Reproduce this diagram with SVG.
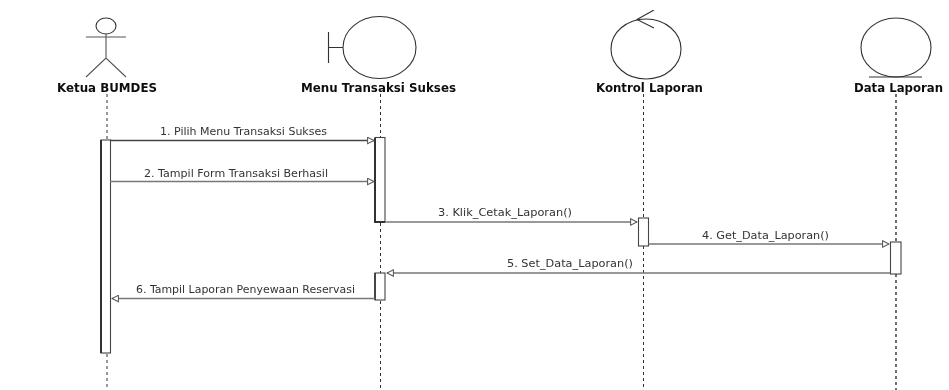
<svg xmlns="http://www.w3.org/2000/svg" width="949" height="390" viewBox="0 0 949 390">
<style>
text{font-family:"DejaVu Sans","Liberation Sans",sans-serif;fill:#222}
.t{font-size:11.500px;font-weight:bold;fill:#111}
.m{font-size:10.500px;fill:#333}
.s{fill:none;stroke:#333;stroke-width:1.1}
.ll{fill:none;stroke:#333;stroke-width:1;stroke-dasharray:3 3}
.a{fill:#fff;stroke:#444;stroke-width:1.1}
.c{fill:none;stroke:#777;stroke-width:1.4}
</style>
<defs>
<marker id="h" viewBox="0 0 10 10" refX="9" refY="5" markerUnits="userSpaceOnUse" markerWidth="8" markerHeight="8" orient="auto"><path d="M1 1L9 5L1 9Z" fill="#fff" stroke="#555" stroke-width="1.3"/></marker>
<filter id="soft" x="0" y="0" width="100%" height="100%"><feGaussianBlur stdDeviation="0.35"/></filter>
</defs>
<rect width="949" height="390" fill="#fff"/>
<g filter="url(#soft)">
<g id="lifelines">
<path class="ll" d="M107 94V140M107 354V390"/>
<path class="ll" d="M380.500 94V137M380.500 223V273M380.500 301V390"/>
<path class="ll" d="M643.500 94V218M643.500 246V390"/>
<path class="ll" style="stroke-width:1.4" d="M896 94V242M896 274V390"/>
</g>
<g id="ketua">
<ellipse class="s" cx="106" cy="26" rx="10" ry="8"/>
<path class="s" style="stroke:#555" d="M86 37H126M106 34V58M86 77L106 58L126 77"/>
<text class="t" x="57" y="92" textLength="100" lengthAdjust="spacingAndGlyphs">Ketua BUMDES</text>
<rect class="a" x="101" y="140" width="9.500" height="213"/>
<path fill="none" stroke="#333" stroke-width="2" d="M101 140V353"/>
</g>
<g id="menu">
<ellipse class="s" cx="379.500" cy="47.500" rx="36.500" ry="31"/>
<path class="s" d="M328.500 32V63M328.500 47.500H343"/>
<text class="t" x="301" y="92" textLength="155" lengthAdjust="spacingAndGlyphs">Menu Transaksi Sukses</text>
<rect class="a" x="375" y="137.500" width="10" height="84.500"/>
<path fill="none" stroke="#333" stroke-width="2" d="M375 138V222H385"/>
<rect class="a" x="375" y="273" width="10" height="27"/>
<path fill="none" stroke="#333" stroke-width="1.600" d="M375 273V300"/>
</g>
<g id="kontrol">
<ellipse class="s" cx="646" cy="49" rx="35" ry="30"/>
<path class="s" d="M654 10L637 19.500L654 28"/>
<text class="t" x="596" y="92" textLength="107" lengthAdjust="spacingAndGlyphs">Kontrol Laporan</text>
<rect class="a" x="638.500" y="218" width="10" height="28"/>
</g>
<g id="data">
<ellipse class="s" cx="896" cy="47.500" rx="35" ry="29.500"/>
<path class="s" d="M869 77H922"/>
<text class="t" x="854" y="92" textLength="89" lengthAdjust="spacingAndGlyphs">Data Laporan</text>
<rect class="a" x="890.500" y="242" width="10.500" height="32"/>
</g>
<g id="connectors">
<path class="c" style="stroke:#444;stroke-width:1.700" marker-end="url(#h)" d="M110 140.500H374"/>
<path class="c" marker-end="url(#h)" d="M110 181.500H374"/>
<path class="c" marker-end="url(#h)" d="M385 222H637"/>
<path class="c" marker-end="url(#h)" d="M648.500 244H889"/>
<path class="c" style="stroke-width:1.600" marker-end="url(#h)" d="M890 273H387"/>
<path class="c" style="stroke-width:1.600" marker-end="url(#h)" d="M375 298.500H112"/>
<text class="m" x="160" y="134.500" textLength="167" lengthAdjust="spacingAndGlyphs">1. Pilih Menu Transaksi Sukses</text>
<text class="m" x="144" y="176.500" textLength="184" lengthAdjust="spacingAndGlyphs">2. Tampil Form Transaksi Berhasil</text>
<text class="m" x="438" y="216" textLength="134" lengthAdjust="spacingAndGlyphs">3. Klik_Cetak_Laporan()</text>
<text class="m" x="702" y="239" textLength="127" lengthAdjust="spacingAndGlyphs">4. Get_Data_Laporan()</text>
<text class="m" x="507" y="267" textLength="126" lengthAdjust="spacingAndGlyphs">5. Set_Data_Laporan()</text>
<text class="m" x="136" y="292.500" textLength="219" lengthAdjust="spacingAndGlyphs">6. Tampil Laporan Penyewaan Reservasi</text>
</g>
</g>
</svg>
